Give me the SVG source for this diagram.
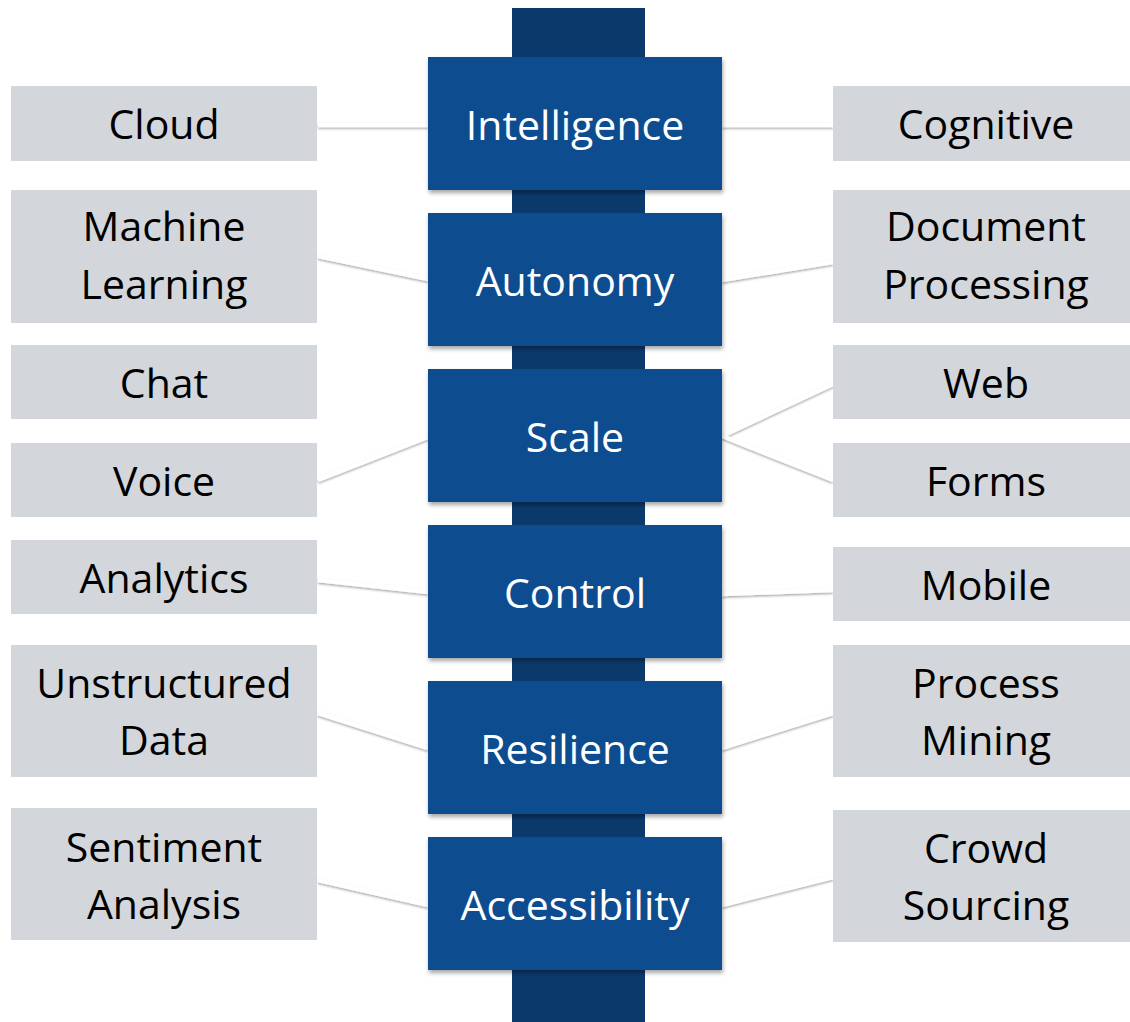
<svg xmlns="http://www.w3.org/2000/svg" width="1130" height="1022" viewBox="0 0 1130 1022">
<defs>
<filter id="sh" x="-10%" y="-10%" width="120%" height="130%">
<feDropShadow dx="1" dy="3" stdDeviation="2" flood-color="#000" flood-opacity="0.35"/>
</filter>
<filter id="lsh" filterUnits="userSpaceOnUse" x="0" y="0" width="1130" height="1022">
<feDropShadow dx="0" dy="1.5" stdDeviation="1" flood-color="#000" flood-opacity="0.35"/>
</filter>
</defs>
<style>
.blue{fill:#114d8f;filter:url(#sh)}
.gray{fill:#d3d6da}
.bt{font-family:"Open Sans","Liberation Sans",sans-serif;font-size:41px;fill:#fff;text-anchor:middle}
.gt{font-family:"Open Sans","Liberation Sans",sans-serif;font-size:41px;fill:#000;text-anchor:middle}
.conn line{stroke:#fff;stroke-width:4.5;filter:url(#lsh)}
</style>
<rect width="1130" height="1022" fill="#fff"/>
<rect id="spine" x="512" y="8" width="133" height="1014" fill="#0c396c"/>

<g id="connectors" class="conn">
<line x1="318" y1="125" x2="428" y2="125"/>
<line x1="722" y1="125" x2="833" y2="125"/>
<line x1="318" y1="256" x2="428" y2="279"/>
<line x1="722" y1="280" x2="833" y2="262"/>
<line x1="318" y1="480" x2="428" y2="437"/>
<line x1="722" y1="436" x2="833" y2="384"/>
<line x1="722" y1="436" x2="833" y2="480"/>
<line x1="318" y1="580" x2="428" y2="592"/>
<line x1="722" y1="594" x2="833" y2="590"/>
<line x1="318" y1="713" x2="428" y2="748"/>
<line x1="722" y1="748" x2="833" y2="713"/>
<line x1="318" y1="880" x2="428" y2="905"/>
<line x1="722" y1="905" x2="833" y2="877"/>
</g>

<g id="intelligence"><rect class="blue" x="428" y="57" width="294" height="133"/><text class="bt" x="575" y="140">Intelligence</text></g>
<g id="autonomy"><rect class="blue" x="428" y="213" width="294" height="133"/><text class="bt" x="575" y="296">Autonomy</text></g>
<g id="scale"><rect class="blue" x="428" y="369" width="294" height="133"/><text class="bt" x="575" y="452">Scale</text></g>
<g id="control"><rect class="blue" x="428" y="525" width="294" height="133"/><text class="bt" x="575" y="608">Control</text></g>
<g id="resilience"><rect class="blue" x="428" y="681" width="294" height="133"/><text class="bt" x="575" y="764">Resilience</text></g>
<g id="accessibility"><rect class="blue" x="428" y="837" width="294" height="133"/><text class="bt" x="575" y="920">Accessibility</text></g>

<g id="cloud"><rect class="gray" x="11" y="86" width="306" height="75"/><text class="gt" x="164" y="139">Cloud</text></g>
<g id="machine-learning"><rect class="gray" x="11" y="190" width="306" height="133"/><text class="gt" x="164" y="241">Machine</text><text class="gt" x="164" y="299">Learning</text></g>
<g id="chat"><rect class="gray" x="11" y="345" width="306" height="74"/><text class="gt" x="164" y="398">Chat</text></g>
<g id="voice"><rect class="gray" x="11" y="443" width="306" height="74"/><text class="gt" x="164" y="496">Voice</text></g>
<g id="analytics"><rect class="gray" x="11" y="540" width="306" height="74"/><text class="gt" x="164" y="593">Analytics</text></g>
<g id="unstructured-data"><rect class="gray" x="11" y="645" width="306" height="132"/><text class="gt" x="164" y="698">Unstructured</text><text class="gt" x="164" y="755">Data</text></g>
<g id="sentiment-analysis"><rect class="gray" x="11" y="808" width="306" height="132"/><text class="gt" x="164" y="862">Sentiment</text><text class="gt" x="164" y="919">Analysis</text></g>

<g id="cognitive"><rect class="gray" x="833" y="86" width="306" height="75"/><text class="gt" x="986" y="139">Cognitive</text></g>
<g id="document-processing"><rect class="gray" x="833" y="190" width="306" height="133"/><text class="gt" x="986" y="241">Document</text><text class="gt" x="986" y="299">Processing</text></g>
<g id="web"><rect class="gray" x="833" y="345" width="306" height="74"/><text class="gt" x="986" y="398">Web</text></g>
<g id="forms"><rect class="gray" x="833" y="443" width="306" height="74"/><text class="gt" x="986" y="496">Forms</text></g>
<g id="mobile"><rect class="gray" x="833" y="547" width="306" height="74"/><text class="gt" x="986" y="600">Mobile</text></g>
<g id="process-mining"><rect class="gray" x="833" y="645" width="306" height="132"/><text class="gt" x="986" y="698">Process</text><text class="gt" x="986" y="755">Mining</text></g>
<g id="crowd-sourcing"><rect class="gray" x="833" y="810" width="306" height="132"/><text class="gt" x="986" y="863">Crowd</text><text class="gt" x="986" y="920">Sourcing</text></g>
</svg>
